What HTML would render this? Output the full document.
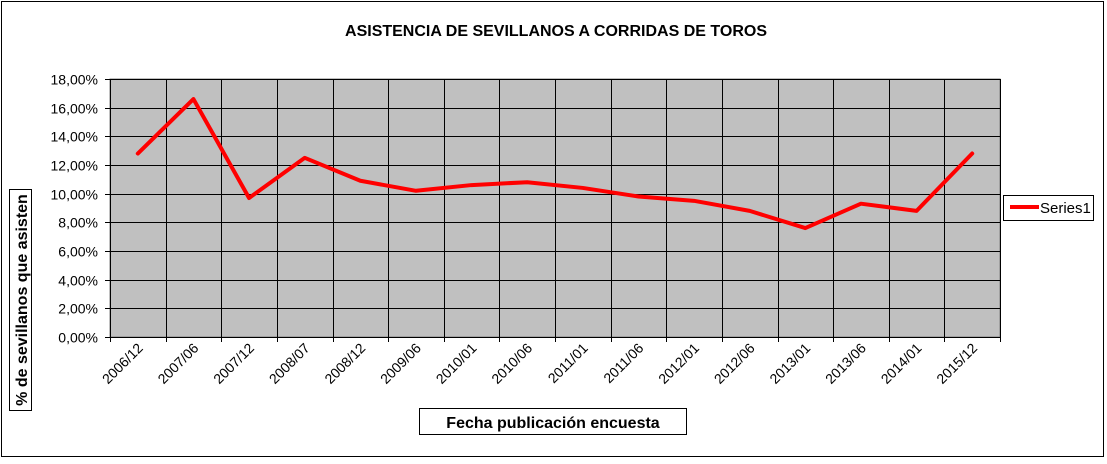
<!DOCTYPE html>
<html><head><meta charset="utf-8"><style>
body{margin:0;background:#fff;font-family:"Liberation Sans",Arial,sans-serif}
svg text{font-family:"Liberation Sans",Arial,sans-serif}
</style></head><body>
<svg id="c" width="1107" height="459" xmlns="http://www.w3.org/2000/svg">
<rect x="1.5" y="1.5" width="1102" height="455" fill="#fff" stroke="#000"/>
<text x="556" y="36" text-anchor="middle" font-size="16" font-weight="bold">ASISTENCIA DE SEVILLANOS A CORRIDAS DE TOROS</text>
<g id="plot"></g>
<rect x="9.5" y="189.5" width="22" height="221" fill="#fff" stroke="#000"/>
<text transform="translate(27,300) rotate(-90)" text-anchor="middle" font-size="16" font-weight="bold">% de sevillanos que asisten</text>
<rect x="419.5" y="408.5" width="267" height="26" fill="#fff" stroke="#000"/>
<text x="553" y="428" text-anchor="middle" font-size="16" font-weight="bold">Fecha publicación encuesta</text>
<g>
<rect x="1003.5" y="195.5" width="90" height="25" fill="#fff" stroke="#000"/>
<line x1="1010" y1="207" x2="1039" y2="207" stroke="#f00" stroke-width="4"/>
<text x="1040" y="213" font-size="15">Series1</text>
</g>
</svg>
<script>
const categories=["2006/12","2007/06","2007/12","2008/07","2008/12","2009/06","2010/01","2010/06","2011/01","2011/06","2012/01","2012/06","2013/01","2013/06","2014/01","2015/12"];
const values=[12.8,16.6,9.7,12.5,10.9,10.2,10.6,10.8,10.4,9.8,9.5,8.8,7.6,9.3,8.8,12.8];
const yTicks=[0,2,4,6,8,10,12,14,16,18];
const yTickLabels=["0,00%","2,00%","4,00%","6,00%","8,00%","10,00%","12,00%","14,00%","16,00%","18,00%"];
const L=110,R=1000,T=79,B=337,NS="http://www.w3.org/2000/svg";
const g=document.getElementById('plot');
const bw=(R-L)/categories.length;
const xs=i=>L+bw*(i+0.5);
const ys=v=>B-(v/18)*(B-T);
function el(t,a){const e=document.createElementNS(NS,t);for(const k in a)e.setAttribute(k,a[k]);g.appendChild(e);return e;}
let bg=el('rect',{x:L,y:T,width:R-L,height:B-T,fill:'#c0c0c0',stroke:'#808080'});


yTicks.forEach((t,i)=>{const y=Math.round(ys(t))+0.5;
let l=el('line',{x1:L-5,x2:R,y1:y,y2:y,stroke:'#000'});


let tx=el('text',{x:L-12,y:y+5,'text-anchor':'end','font-size':'14'});tx.textContent=yTickLabels[i];

});
for(let i=0;i<=categories.length;i++){const x=Math.round(L+bw*i)+0.5;
let l=el('line',{x1:x,x2:x,y1:T,y2:B+5,stroke:'#000'});

}
categories.forEach((c,i)=>{const x=xs(i)+6,y=B+12;
let tx=el('text',{x:x,y:y,'text-anchor':'end','font-size':'14',transform:`rotate(-45 ${x} ${y})`});tx.textContent=c;

});
let p=el('polyline',{points:values.map((v,i)=>xs(i)+','+ys(v)).join(' '),fill:'none',stroke:'#f00','stroke-width':'4','stroke-linejoin':'round','stroke-linecap':'round'});


</script>
</body></html>
